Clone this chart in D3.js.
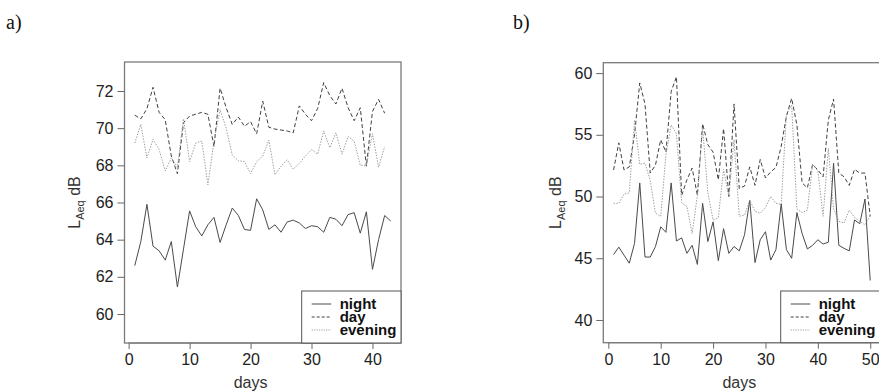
<!DOCTYPE html>
<html>
<head>
<meta charset="utf-8">
<script src="https://cdn.jsdelivr.net/npm/d3@7"></script>
<style>
  body { margin: 0; background: #fff; }
  text { font-family: "Liberation Sans", Arial, sans-serif; }
</style>
</head>
<body>
<svg id="chart" width="879" height="391"></svg>
<script>
// panel a) values
const nightA = [62.6, 63.9, 65.9, 63.65, 63.4, 62.9, 63.9, 61.45, 63.5, 65.55, 64.7, 64.2, 64.8, 65.2, 63.85, 64.8, 65.7, 65.3, 64.55, 64.5,
  66.2, 65.6, 64.55, 64.8, 64.4, 64.95, 65.05, 64.9, 64.6, 64.75, 64.7, 64.4, 65.2, 65.1, 64.75, 65.35, 65.45, 64.35, 65.5, 62.4,
  64.0, 65.3, 65.0];
const dayA = [70.7, 70.5, 71.05, 72.2, 70.85, 70.45, 68.5, 67.55, 70.3, 70.65, 70.75, 70.85, 70.75, 69.0, 72.15, 71.1, 70.2, 70.6, 70.1, 70.35,
  69.7, 71.45, 70.05, 69.95, 69.9, 69.85, 69.75, 71.2, 70.75, 70.4, 71.05, 72.45, 71.75, 71.3, 72.15, 71.1, 70.4, 71.1, 67.95, 70.9,
  71.55, 70.8];
const eveningA = [69.2, 70.2, 68.4, 69.4, 68.85, 67.7, 68.4, 67.9, 70.5, 68.2, 69.2, 69.3, 66.95, 69.3, 71.0, 70.0, 68.55, 68.25, 68.2, 67.55,
  68.2, 68.5, 69.35, 67.5, 67.95, 68.3, 67.8, 68.1, 68.5, 68.85, 68.6, 69.85, 68.95, 69.75, 68.6, 69.55, 69.3, 68.0, 68.0, 69.7,
  67.9, 69.0];

// panel b)
const nightB = [45.3, 45.9, 45.25, 44.6, 46.2, 51.1, 45.1, 45.1, 45.95, 47.55, 47.1, 51.1, 46.4, 46.65, 45.4, 46.05, 44.5, 49.45, 46.35, 47.95,
  44.8, 47.4, 45.4, 45.95, 45.6, 46.9, 49.7, 44.65, 46.5, 47.15, 44.85, 45.7, 49.4, 45.7, 45.0, 48.7, 47.0, 45.75, 46.05, 46.5,
  46.15, 46.3, 52.7, 46.05, 45.8, 45.6, 48.1, 47.8, 49.8, 43.2];
const dayB = [52.15, 54.35, 52.15, 52.4, 55.0, 59.2, 57.5, 51.9, 52.55, 54.6, 53.6, 58.5, 59.7, 50.1, 51.35, 52.3, 50.1, 55.9, 54.2, 53.6,
  51.35, 55.5, 50.0, 57.5, 50.65, 50.85, 52.4, 50.9, 53.0, 51.5, 52.0, 52.35, 54.05, 56.5, 57.95, 55.8, 51.1, 50.7, 52.6, 52.15,
  51.6, 56.2, 57.9, 51.9, 51.6, 50.9, 52.2, 51.9, 51.9, 48.4];
const eveningB = [49.45, 49.45, 50.2, 50.3, 56.2, 52.6, 52.7, 51.3, 48.65, 48.4, 53.4, 55.8, 55.1, 49.5, 49.2, 47.0, 50.1, 55.6, 50.3, 48.1,
  48.3, 52.2, 50.0, 54.6, 48.4, 48.5, 49.7, 48.8, 48.65, 49.1, 50.0, 49.45, 49.35, 56.7, 57.4, 49.0, 48.7, 48.9, 52.6, 52.1,
  48.4, 53.9, 49.0, 48.0, 47.85, 48.9, 48.3, 48.0, 47.7, 48.45];

const ticksA = [60, 62, 64, 66, 68, 70, 72];
const ticksB = [40, 45, 50, 55, 60];
const xTicksA = [0, 10, 20, 30, 40];
const xTicksB = [0, 10, 20, 30, 40, 50];
const seriesNames = ["night", "day", "evening"];

const styles = {
  night:   { color: "#4a4a4a", dash: null },
  day:     { color: "#404040", dash: "4,2.5" },
  evening: { color: "#9c9c9c", dash: "1.4,1.4" }
};

const svg = d3.select("#chart");

function drawPanel(p) {
  const g = svg.append("g");
  // R style 4% padding around the data / ylim range
  const xpad = (p.nDays - 1) * 0.04;
  const x = d3.scaleLinear().domain([1 - xpad, p.nDays + xpad]).range([p.left, p.right]);
  const ypad = (p.ylim[1] - p.ylim[0]) * 0.04;
  const y = d3.scaleLinear().domain([p.ylim[0] - ypad, p.ylim[1] + ypad]).range([p.bottom, p.top]);

  // series
  const line = d3.line().x((d, i) => x(i + 1)).y(d => y(d));
  p.series.forEach((vals, k) => {
    const st = styles[seriesNames[k]];
    g.append("path")
      .datum(vals)
      .attr("d", line)
      .attr("fill", "none")
      .attr("stroke", st.color)
      .attr("stroke-width", 1)
      .attr("stroke-dasharray", st.dash);
  });

  // axes
  const yAxis = d3.axisLeft(y).tickValues(p.yTicks).tickSize(7).tickPadding(4);
  const ya = g.append("g").attr("transform", `translate(${p.left},0)`).call(yAxis);
  const xAxis = d3.axisBottom(x).tickValues(p.xTicks).tickSize(6).tickPadding(5);
  const xa = g.append("g").attr("transform", `translate(0,${p.bottom})`).call(xAxis);
  [ya, xa].forEach(a => {
    a.select(".domain").remove();
    a.selectAll("line").attr("stroke", "#666");
    a.selectAll("text").attr("font-size", 16).attr("fill", "#222");
  });
  // x axis line spans first to last tick
  g.append("line")
    .attr("x1", x(p.xTicks[0])).attr("x2", x(p.xTicks[p.xTicks.length - 1]))
    .attr("y1", p.bottom).attr("y2", p.bottom)
    .attr("stroke", "#666");

  // box
  g.append("rect")
    .attr("x", p.left).attr("y", p.top)
    .attr("width", p.right - p.left).attr("height", p.bottom - p.top)
    .attr("fill", "none").attr("stroke", "#7a7a7a").attr("stroke-width", 1.3);

  // axis titles
  g.append("text")
    .attr("x", (x(p.xTicks[0]) + x(p.xTicks[p.xTicks.length - 1])) / 2)
    .attr("y", 388)
    .attr("text-anchor", "middle")
    .attr("font-size", 16)
    .attr("fill", "#333")
    .text("days");

  const yl = g.append("text")
    .attr("transform", `translate(${p.ylabX},${(p.top + p.bottom) / 2}) rotate(-90)`)
    .attr("text-anchor", "middle")
    .attr("font-size", 16)
    .attr("fill", "#333");
  yl.append("tspan").text("L");
  yl.append("tspan").attr("font-size", 11).attr("dy", 4).text("Aeq");
  yl.append("tspan").attr("dy", -4).text(" dB");

  // legend
  const lg = g.append("g");
  lg.append("rect")
    .attr("x", p.legX).attr("y", 291)
    .attr("width", p.right - p.legX).attr("height", p.bottom - 291)
    .attr("fill", "#fff").attr("stroke", "#555").attr("stroke-width", 1);
  seriesNames.forEach((name, k) => {
    const ry = 304 + k * 13;
    const st = styles[name];
    lg.append("line")
      .attr("x1", p.legX + 10).attr("x2", p.legX + 29.5)
      .attr("y1", ry).attr("y2", ry)
      .attr("stroke", st.color).attr("stroke-width", 1)
      .attr("stroke-dasharray", name === "day" ? "3,2" : (name === "evening" ? "1.2,1.2" : null));
    lg.append("text")
      .attr("x", p.legX + 38).attr("y", ry + 5)
      .attr("font-size", 15).attr("font-weight", "bold")
      .attr("fill", "#111")
      .text(name);
  });

  // panel letter
  svg.append("text")
    .attr("x", p.letterX).attr("y", 29)
    .style("font-family", "'Liberation Serif', 'Times New Roman', serif")
    .attr("font-size", 20)
    .attr("fill", "#111")
    .text(p.letter);
}

drawPanel({
  letter: "a)", letterX: 6,
  series: [nightA, dayA, eveningA], nDays: 43, ylim: [59, 73],
  left: 124.5, right: 401, top: 62, bottom: 343,
  yTicks: ticksA, xTicks: xTicksA, ylabX: 80, legX: 301.7
});

drawPanel({
  letter: "b)", letterX: 513,
  series: [nightB, dayB, eveningB], nDays: 50, ylim: [39, 60],
  left: 603.3, right: 880.5, top: 62.7, bottom: 342.7,
  yTicks: ticksB, xTicks: xTicksB, ylabX: 561, legX: 780.7
});
</script>
</body>
</html>
